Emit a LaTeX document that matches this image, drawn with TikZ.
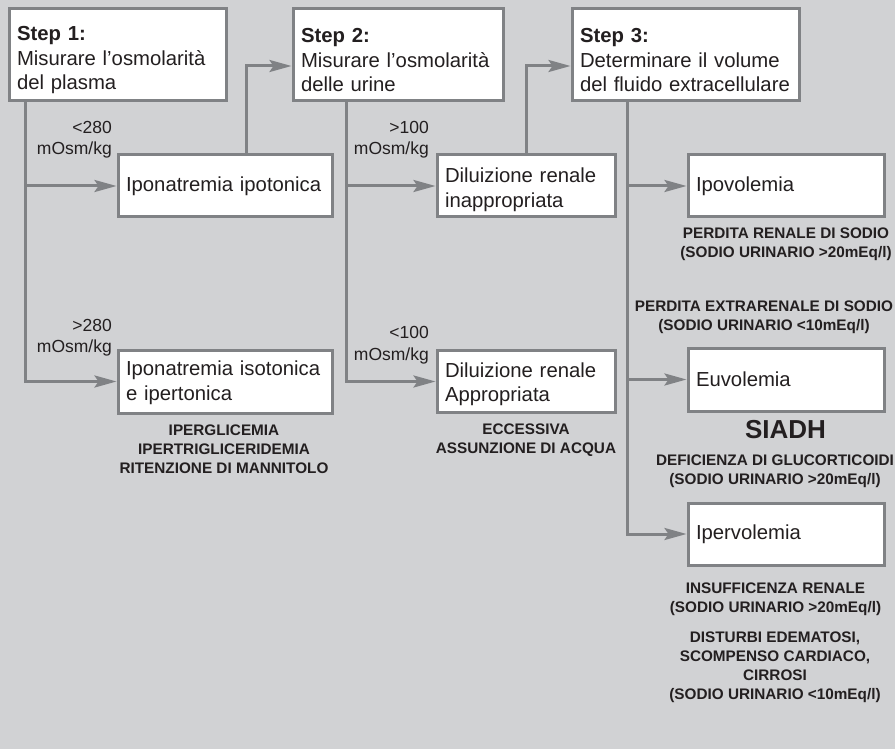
\documentclass[tikz,border=0pt]{standalone}
\usepackage{fontspec}
\setmainfont{Liberation Sans}
\usetikzlibrary{arrows.meta,calc}
\definecolor{bgc}{RGB}{209,210,212}
\definecolor{linec}{RGB}{128,130,133}
\definecolor{ink}{RGB}{35,31,32}
% taller first line, pushes multi-line box text slightly down
\newcommand{\firstline}[1]{\rule{0pt}{#1}}

\begin{document}
\begin{tikzpicture}[x=1pt,y=-1pt,
  box/.style={draw=linec, line width=3pt, fill=white, text=ink, align=left,
    inner xsep=8pt, inner ysep=0pt, font=\fontsize{20.3}{24.5}\selectfont,
    execute at begin node={\hyphenpenalty=10000}},
  link/.style={draw=linec, line width=3pt, line join=miter,
    -{Stealth[length=22pt,width=12pt,inset=4pt]}},
  cut/.style={text=ink, align=right, font=\fontsize{17.5}{21.5}\selectfont,
    anchor=east, inner sep=0pt},
  note/.style={text=ink, align=center, font=\bfseries\fontsize{15.3}{19}\selectfont,
    inner sep=0pt},
]
% canvas
\fill[bgc] (0,0) rectangle (895,749);
\useasboundingbox (0,0) rectangle (895,749);

% step boxes
\node[box, text width=201pt, minimum height=92pt] (s1) at (117.5,55)
  {\firstline{25pt}\textbf{Step 1:}\\Misurare l’osmolarità\\del plasma};
\node[box, text width=194pt, minimum height=92pt] (s2) at (398,55)
  {\firstline{25pt}\textbf{Step 2:}\\Misurare l’osmolarità\\delle urine};
\node[box, text width=211pt, minimum height=92pt] (s3) at (685.5,55)
  {\firstline{25pt}\textbf{Step 3:}\\Determinare il volume\\del fluido extracellulare};

% outcome boxes
\node[box, text width=198pt, minimum height=62pt] (ipo) at (225,186)
  {Iponatremia ipotonica};
\node[box, text width=198pt, minimum height=63pt] (iso) at (225,381.5)
  {\firstline{17pt}Iponatremia isotonica\\e ipertonica};
\node[box, text width=162pt, minimum height=62pt] (dil1) at (526,186)
  {\firstline{22.5pt}Diluizione renale\\inappropriata};
\node[box, text width=162pt, minimum height=62pt] (dil2) at (526,381.5)
  {\firstline{20pt}Diluizione renale\\Appropriata};
\node[box, text width=180pt, minimum height=62pt] (ipov) at (786,186)
  {Ipovolemia};
\node[box, text width=180pt, minimum height=63pt] (euv) at (786,379.5)
  {Euvolemia};
\node[box, text width=180pt, minimum height=62pt] (iperv) at (786,534)
  {Ipervolemia};

% trunk start points under the step boxes
\coordinate (t1) at ($(s1.south west)+(18,0)$);
\coordinate (t2) at ($(s2.south west)+(55,0)$);
\coordinate (t3) at ($(s3.south west)+(57,0)$);

% connectors
\draw[link] (t1) |- (ipo.west);
\draw[link] (t1) |- (iso.west);
\draw[link] ($(ipo.north west)+(130,0)$) |- ($(s2.west)+(0,11)$);
\draw[link] (t2) |- (dil1.west);
\draw[link] (t2) |- (dil2.west);
\draw[link] (dil1.north) |- ($(s3.west)+(0,11)$);
\draw[link] (t3) |- (ipov.west);
\draw[link] (t3) |- (euv.west);
\draw[link] (t3) |- (iperv.west);

% thresholds
\node[cut] (c1) at (112,139.5) {<280\\mOsm/kg};
\node[cut] (c2) at (112,337.5) {>280\\mOsm/kg};
\node[cut] (c3) at (429,139.5) {>100\\mOsm/kg};
\node[cut] (c4) at (429,345) {<100\\mOsm/kg};

% causes
\node[note] (n1) at (224,449.5) {IPERGLICEMIA\\IPERTRIGLICERIDEMIA\\RITENZIONE DI MANNITOLO};
\node[note] (n2) at (526,440.5) {ECCESSIVA\\ASSUNZIONE DI ACQUA};
\node[note] (n3) at (786,244.5) {PERDITA RENALE DI SODIO\\(SODIO URINARIO >20mEq/l)};
\node[note] (n4) at (764,317) {PERDITA EXTRARENALE DI SODIO\\(SODIO URINARIO <10mEq/l)};
\node[note, font=\bfseries\fontsize{26}{30}\selectfont] (n5) at (785.5,430) {SIADH};
\node[note] (n6) at (775,471.5) {DEFICIENZA DI GLUCORTICOIDI\\(SODIO URINARIO >20mEq/l)};
\node[note] (n7) at (775.5,599) {INSUFFICENZA RENALE\\(SODIO URINARIO >20mEq/l)};
\node[note] (n8) at (775,667.5) {DISTURBI EDEMATOSI,\\SCOMPENSO CARDIACO,\\CIRROSI\\(SODIO URINARIO <10mEq/l)};
\end{tikzpicture}
\end{document}
